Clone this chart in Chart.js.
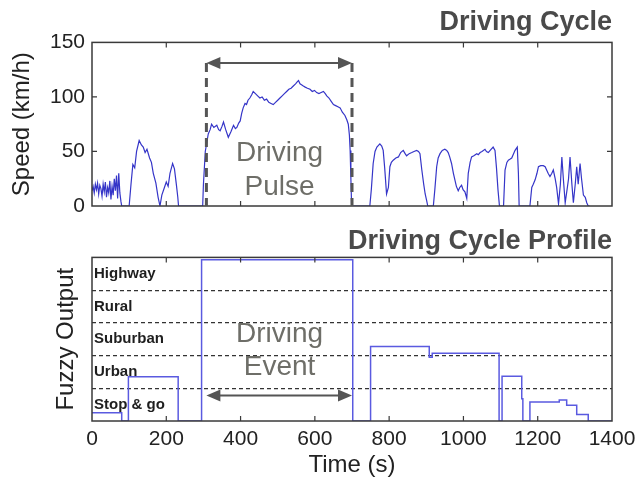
<!DOCTYPE html>
<html lang="en">
<head>
<meta charset="UTF-8" />
<title>Driving Cycle</title>
<script src="https://cdn.jsdelivr.net/npm/chart.js"></script>
<style>
  body { margin: 0; background: #fff; }
  .wrap { position: relative; width: 643px; height: 481px; }
  canvas { position: absolute; left: 0; }
  #cycleChart { top: 0; }
  #profileChart { top: 220px; }
</style>
</head>
<body>
<div class="wrap">
  <canvas id="cycleChart" width="643" height="228"></canvas>
  <canvas id="profileChart" width="643" height="261"></canvas>
</div>
<script>
// speed trace (s, km/h)
const speedTime = [0,3,6,9,12,15,18,21,24,27,30,33,36,39,42,45,48,51,54,57,60,63,66,69,72,75,78,80,
  100,105,110,115,120,127,133,138,143,148,155,160,165,172,178,183,
  188,195,200,205,210,217,222,227,231,233,
  298,300,305,313,318,322,328,336,341,345,350,354,360,367,374,381,386,390,395,399,
  403,407,412,416,420,425,430,434,440,446,452,458,464,470,476,482,488,494,500,506,
  512,518,524,530,536,542,548,553,556,560,565,569,574,580,587,593,599,605,611,617,
  623,628,632,638,644,650,656,662,668,674,681,686,690,693,695,697,699,
  748,752,757,762,767,775,780,784,788,793,798,802,806,811,818,825,831,838,843,847,
  854,861,867,874,879,883,888,893,897,901,904,
  919,923,928,932,937,943,950,955,959,963,968,973,977,981,986,990,995,999,1004,1009,
  1013,1018,1022,1028,1036,1040,1045,1050,1058,1062,1067,1072,1080,1085,1089,1093,1097,
  1108,1112,1117,1121,1126,1130,1135,1139,1145,1148,1150,
  1179,1184,1188,1193,1198,1202,1208,1215,1220,1224,1228,1233,1238,1242,1247,1251,1256,1261,1265,1269,
  1274,1279,1283,1287,1292,1296,1301,1305,1309,1314,1318,1323,1328,1332,1336,1340];
const speedKmh = [14,18,12,20,15,21,11,19,16,9,20,13,22,8,17,12,23,6,18,10,25,14,28,7,30,12,4,0,
  0,20,38,35,50,60,56,54,49,52,44,40,30,21,8,0,
  10,17,22,18,30,39,34,20,8,0,
  0,20,50,66,70,75,72,74,70,69,73,77,70,63,68,74,71,72,76,78,
  85,90,94,93,97,99,102,105,103,101,99,100,97,98,95,94,93,95,97,99,
  101,103,105,107,108,110,112,114,115,112,111,110,109,108,107,105,106,104,103,104,
  105,103,101,99,96,93,92,91,90,86,83,79,75,65,51,25,0,
  0,15,39,50,54,57,55,51,35,11,17,36,40,42,44,45,49,51,48,46,
  48,49,50,51,50,48,33,20,11,5,0,
  0,15,36,44,48,51,52,51,49,45,39,30,24,18,14,17,19,15,13,7,
  30,40,45,46,48,47,49,50,52,50,49,51,54,51,35,15,0,
  0,33,40,42,43,44,48,51,54,30,0,
  0,17,20,24,30,36,37,37,36,33,30,27,30,33,25,17,2,20,45,25,
  3,15,25,45,20,3,20,36,20,39,25,10,8,3,0,0];

// fuzzy classifier output: level held from profileTime[i] to profileTime[i+1]
const profileTime  = [0,80,98,232,295,702,750,908,916,1096,1104,1157,1160,1179,1258,1278,1305,1336,1400];
const profileLevel = [0.25,0,1.35,0,4.93,0,2.28,1.95,2.07,0,1.37,0.68,0,0.58,0.64,0.48,0.2,0,0];
const bandLabels = ["Stop & go", "Urban", "Suburban", "Rural", "Highway"];

const timeTicks = [0,200,400,600,800,1000,1200,1400];
const speedTicks = [0,50,100,150];
const pulseStart = 308, pulseEnd = 700;

Chart.defaults.font.family = "Arial, 'Liberation Sans', sans-serif";
Chart.defaults.color = "#222";

function arrow(ctx, x1, x2, y) {
  ctx.beginPath();
  ctx.moveTo(x1 + 8, y);
  ctx.lineTo(x2 - 8, y);
  ctx.stroke();
  [[x1, 1], [x2, -1]].forEach(([x, d]) => {
    ctx.beginPath();
    ctx.moveTo(x, y);
    ctx.lineTo(x + d * 14, y - 6);
    ctx.lineTo(x + d * 14, y + 6);
    ctx.closePath();
    ctx.fill();
  });
}

// box round the plot + inward tick marks
const frame = {
  id: "frame",
  afterDraw(chart, args, opts) {
    const { ctx, chartArea: a, scales } = chart;
    ctx.save();
    ctx.strokeStyle = "#3a3a3a";
    ctx.lineWidth = 1.5;
    ctx.strokeRect(a.left, a.top, a.right - a.left, a.bottom - a.top);
    ctx.lineWidth = 1.2;
    ctx.beginPath();
    timeTicks.slice(1, -1).forEach(t => {
      const x = scales.x.getPixelForValue(t);
      ctx.moveTo(x, a.bottom); ctx.lineTo(x, a.bottom - 5);
      ctx.moveTo(x, a.top); ctx.lineTo(x, a.top + 5);
    });
    (opts.yTicks || []).forEach(v => {
      const y = scales.y.getPixelForValue(v);
      ctx.moveTo(a.left, y); ctx.lineTo(a.left + 5, y);
      ctx.moveTo(a.right, y); ctx.lineTo(a.right - 5, y);
    });
    ctx.stroke();
    ctx.restore();
  }
};

const pulseNotes = {
  id: "pulseNotes",
  afterDraw(chart) {
    const { ctx, scales: { x, y } } = chart;
    const x1 = x.getPixelForValue(pulseStart), x2 = x.getPixelForValue(pulseEnd);
    const yTop = y.getPixelForValue(131), y0 = y.getPixelForValue(0);
    ctx.save();
    ctx.strokeStyle = "#555";
    ctx.fillStyle = "#555";
    ctx.lineWidth = 3;
    ctx.setLineDash([9, 6]);
    ctx.beginPath();
    ctx.moveTo(x1, yTop); ctx.lineTo(x1, y0);
    ctx.moveTo(x2, yTop); ctx.lineTo(x2, y0);
    ctx.stroke();
    ctx.setLineDash([]);
    ctx.lineWidth = 2;
    arrow(ctx, x1, x2, yTop);
    ctx.font = "28px Arial, 'Liberation Sans', sans-serif";
    ctx.fillStyle = "#6e6e68";
    ctx.textAlign = "center";
    ctx.textBaseline = "middle";
    ctx.fillText("Driving", x.getPixelForValue(505), y.getPixelForValue(48));
    ctx.fillText("Pulse", x.getPixelForValue(505), y.getPixelForValue(17));
    ctx.restore();
  }
};

const eventNotes = {
  id: "eventNotes",
  afterDraw(chart) {
    const { ctx, chartArea: a, scales: { x, y } } = chart;
    ctx.save();
    ctx.font = "bold 15px Arial, 'Liberation Sans', sans-serif";
    ctx.fillStyle = "#1e1e1e";
    ctx.textAlign = "left";
    ctx.textBaseline = "middle";
    bandLabels.forEach((lbl, i) => ctx.fillText(lbl, a.left + 2, y.getPixelForValue(i + 0.5)));
    ctx.strokeStyle = "#555";
    ctx.fillStyle = "#555";
    ctx.lineWidth = 2;
    arrow(ctx, x.getPixelForValue(pulseStart), x.getPixelForValue(pulseEnd), y.getPixelForValue(0.78));
    ctx.font = "28px Arial, 'Liberation Sans', sans-serif";
    ctx.fillStyle = "#6e6e68";
    ctx.textAlign = "center";
    ctx.fillText("Driving", x.getPixelForValue(505), y.getPixelForValue(2.64));
    ctx.fillText("Event", x.getPixelForValue(505), y.getPixelForValue(1.63));
    ctx.restore();
  }
};

new Chart(document.getElementById("cycleChart"), {
  type: "line",
  data: {
    datasets: [{
      data: speedTime.map((t, i) => ({ x: t, y: speedKmh[i] })),
      borderColor: "#3535c8",
      borderWidth: 1.2,
      pointRadius: 0,
      tension: 0
    }]
  },
  options: {
    responsive: false,
    animation: false,
    devicePixelRatio: 1,
    layout: { padding: { top: 0, right: 31, bottom: 0, left: 0 } },
    plugins: {
      legend: { display: false },
      tooltip: { enabled: false },
      title: {
        display: true, text: "Driving Cycle", align: "end", color: "#4a4a4a",
        font: { size: 27, weight: "bold" }, padding: { top: 6, bottom: 4 }
      },
      frame: { yTicks: [50, 100] }
    },
    scales: {
      x: {
        type: "linear", min: 0, max: 1400,
        ticks: { display: false },
        grid: { display: false },
        border: { display: false },
        afterFit(s) { s.height = 22; }
      },
      y: {
        min: 0, max: 150,
        ticks: { stepSize: 50, padding: 7, font: { size: 21 }, color: "#222", callback: v => String(v) },
        grid: { display: false, drawTicks: false },
        border: { display: false },
        title: { display: true, text: "Speed (km/h)", font: { size: 24 }, padding: { top: 8, bottom: 0 }, color: "#222" },
        afterFit(s) { s.width = 92; }
      }
    }
  },
  plugins: [frame, pulseNotes]
});

new Chart(document.getElementById("profileChart"), {
  type: "line",
  data: {
    datasets: [{
      data: profileTime.map((t, i) => ({ x: t, y: profileLevel[i] })),
      stepped: "before",
      borderColor: "#5a5ae0",
      borderWidth: 1.5,
      pointRadius: 0
    }]
  },
  options: {
    responsive: false,
    animation: false,
    devicePixelRatio: 1,
    layout: { padding: { top: 0, right: 31, bottom: 0, left: 0 } },
    plugins: {
      legend: { display: false },
      tooltip: { enabled: false },
      title: {
        display: true, text: "Driving Cycle Profile", align: "end", color: "#4a4a4a",
        font: { size: 27, weight: "bold" }, padding: { top: 5, bottom: 0 }
      },
      frame: { yTicks: [] }
    },
    scales: {
      x: {
        type: "linear", min: 0, max: 1400,
        ticks: { stepSize: 200, padding: 6, font: { size: 21 }, color: "#222", callback: v => String(v) },
        grid: { display: false, drawTicks: false },
        border: { display: false },
        title: { display: true, text: "Time (s)", font: { size: 24 }, padding: { top: 0, bottom: 1 }, color: "#222" },
        afterFit(s) { s.height = 60; }
      },
      y: {
        min: 0, max: 5,
        ticks: { display: false, stepSize: 1 },
        grid: {
          drawTicks: false,
          lineWidth: 1.2,
          color: c => (c.tick && c.tick.value > 0 && c.tick.value < 5) ? "#333" : "rgba(0,0,0,0)"
        },
        border: { display: false, dash: [4, 3] },
        title: { display: true, text: "Fuzzy Output", font: { size: 24 }, padding: { top: 52, bottom: 0 }, color: "#222" },
        afterFit(s) { s.width = 92; }
      }
    }
  },
  plugins: [frame, eventNotes]
});
</script>
</body>
</html>
